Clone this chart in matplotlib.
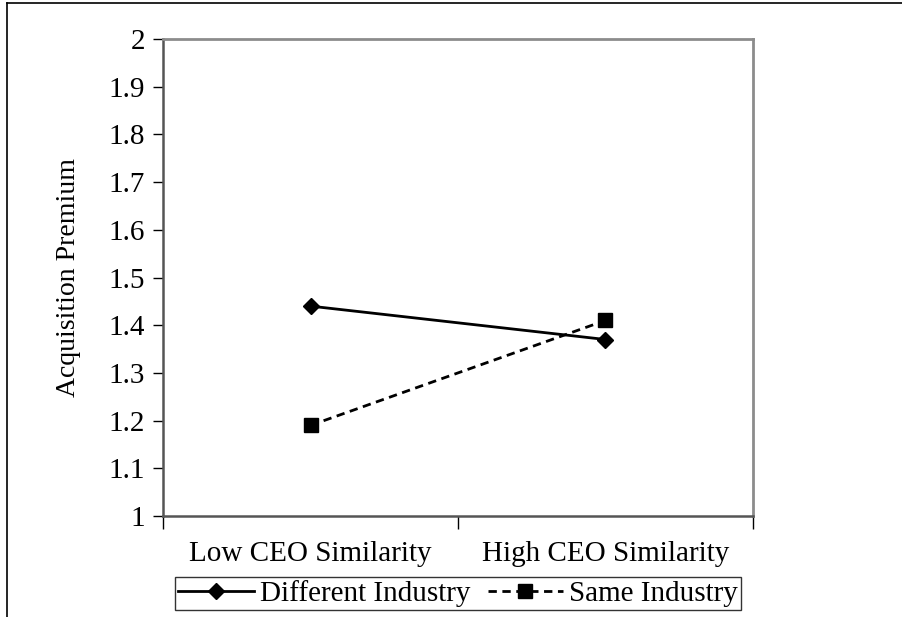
import matplotlib.pyplot as plt
from matplotlib.lines import Line2D

plt.rcParams['font.family'] = ['Liberation Serif', 'DejaVu Serif']

# Data
categories = ["Low CEO Similarity", "High CEO Similarity"]
different_industry = [1.44, 1.37]
same_industry = [1.19, 1.41]
y_ticks = [1, 1.1, 1.2, 1.3, 1.4, 1.5, 1.6, 1.7, 1.8, 1.9, 2]
y_tick_labels = ["1", "1.1", "1.2", "1.3", "1.4", "1.5", "1.6", "1.7", "1.8", "1.9", "2"]

x_pos = [0.5, 1.5]
fs = 21

fig = plt.figure(figsize=(9.02, 6.17), dpi=100)
ax = fig.add_axes([163 / 902, 101 / 617, 590 / 902, 477 / 617])

ax.plot(x_pos, different_industry, color="black", linestyle="-", linewidth=2,
        marker="D", markersize=8, label="Different Industry")
ax.plot(x_pos, same_industry, color="black", linestyle=(0, (3, 2)), linewidth=2,
        marker="s", markersize=10, label="Same Industry")

ax.set_xlim(0, 2)
ax.set_ylim(1, 2)
ax.set_yticks(y_ticks)
ax.set_yticklabels(y_tick_labels, fontsize=fs)
ax.tick_params(axis="y", direction="out", length=7, width=1, color="black", pad=6)

# category boundary ticks, labels in the middle
ax.set_xticks([0, 1, 2])
ax.set_xticklabels([])
ax.set_xticks(x_pos, minor=True)
ax.set_xticklabels(categories, minor=True, fontsize=fs)
ax.tick_params(axis="x", which="major", direction="out", length=9, width=1, color="black")
ax.tick_params(axis="x", which="minor", length=0, pad=18)

ax.set_ylabel("Acquisition Premium", fontsize=20, labelpad=20)

for side in ["top", "right"]:
    ax.spines[side].set_color("#8c8c8c")
    ax.spines[side].set_linewidth(2)
ax.spines["left"].set_color("#555555")
ax.spines["left"].set_linewidth(1.8)
ax.spines["bottom"].set_color("#555555")
ax.spines["bottom"].set_linewidth(1.8)

leg = ax.legend(loc="upper center", bbox_to_anchor=(0.5, -0.128), ncol=2,
                fontsize=fs, frameon=True, fancybox=False, edgecolor="black",
                handlelength=2.6, handletextpad=0.2, columnspacing=0.6,
                borderpad=0.1, borderaxespad=0, handleheight=0.6)
leg.get_frame().set_linewidth(1)

# outer frame of the original figure
fig.add_artist(Line2D([7 / 902, 7 / 902], [0, 1 - 3 / 617], color="black", linewidth=1.2))
fig.add_artist(Line2D([7 / 902, 1], [1 - 3 / 617, 1 - 3 / 617], color="black", linewidth=1.2))

fig.savefig("out.png", dpi=100)
